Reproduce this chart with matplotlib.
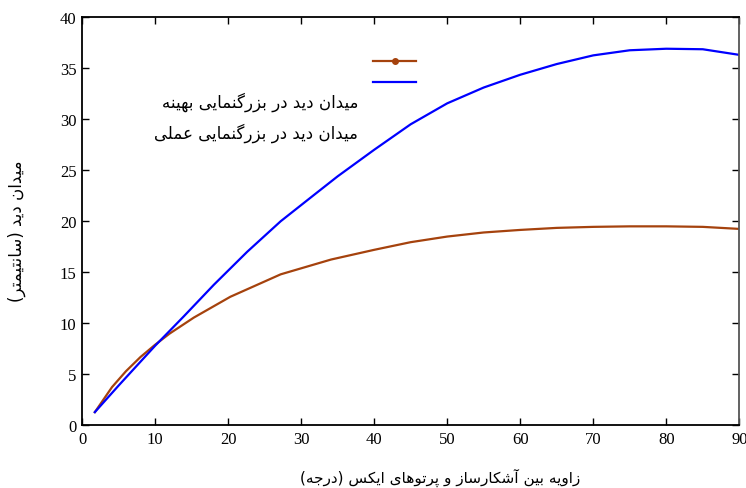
import matplotlib
matplotlib.use('Agg')
import matplotlib.pyplot as plt
from matplotlib.lines import Line2D

plt.rcParams['font.family'] = ['Liberation Serif', 'DejaVu Sans']

# data
angle_opt = [1.75, 4.1, 6, 8, 10, 12, 15.3, 20.3, 27.2, 34.1, 40, 45, 50, 55, 60, 65, 70, 75, 80, 85, 90]
fov_opt = [1.3, 3.75, 5.3, 6.7, 7.9, 9.0, 10.56, 12.6, 14.8, 16.25, 17.2, 17.95, 18.5, 18.9,
           19.15, 19.35, 19.45, 19.5, 19.5, 19.45, 19.25]
angle_prac = [1.75, 5, 10, 13.9, 18.05, 22.6, 27.2, 31.8, 35, 40, 45, 50, 55, 60, 65, 70, 75, 80, 85, 90]
fov_prac = [1.3, 3.9, 7.8, 10.66, 13.78, 17.0, 20.0, 22.6, 24.4, 27.0, 29.5, 31.55, 33.1, 34.35,
            35.4, 36.25, 36.75, 36.9, 36.85, 36.3]

label_opt = 'میدان دید در بزرگنمایی بهینه'
label_prac = 'میدان دید در بزرگنمایی عملی'
xlabel = 'زاویه بین آشکارساز و پرتوهای ایکس (درجه)'
ylabel = 'میدان دید (سانتیمتر)'

# minimal persian shaping (matplotlib has no complex text layout)
FORMS = {
    'ا': 'FE8D FE8E', 'آ': 'FE81 FE82', 'ب': 'FE8F FE90 FE91 FE92', 'پ': 'FB56 FB57 FB58 FB59',
    'ت': 'FE95 FE96 FE97 FE98', 'ج': 'FE9D FE9E FE9F FEA0', 'د': 'FEA9 FEAA', 'ر': 'FEAD FEAE',
    'ز': 'FEAF FEB0', 'س': 'FEB1 FEB2 FEB3 FEB4', 'ش': 'FEB5 FEB6 FEB7 FEB8',
    'ع': 'FEC9 FECA FECB FECC', 'ک': 'FB8E FB8F FB90 FB91', 'گ': 'FB92 FB93 FB94 FB95',
    'ل': 'FEDD FEDE FEDF FEE0', 'م': 'FEE1 FEE2 FEE3 FEE4', 'ن': 'FEE5 FEE6 FEE7 FEE8',
    'ه': 'FEE9 FEEA FEEB FEEC', 'و': 'FEED FEEE', 'ی': 'FBFC FBFD FBFE FBFF',
}
FORMS = {k: [chr(int(h, 16)) for h in v.split()] for k, v in FORMS.items()}


def fa(text):
    text = text.replace('ي', 'ی').replace('ك', 'ک')
    out = []
    for i, c in enumerate(text):
        if c not in FORMS:
            out.append(c)
            continue
        prev = text[i - 1] if i > 0 else ''
        nxt = text[i + 1] if i + 1 < len(text) else ''
        jp = prev in FORMS and len(FORMS[prev]) == 4
        jn = nxt in FORMS and len(FORMS[c]) == 4
        f = FORMS[c]
        if jp and jn:
            out.append(f[3])
        elif jp:
            out.append(f[1])
        elif jn:
            out.append(f[2])
        else:
            out.append(f[0])
    vis = ''.join(reversed(out))
    return vis.translate(str.maketrans('()', ')('))


fig = plt.figure(figsize=(7.46, 4.89), dpi=100)
ax = fig.add_axes([0.110, 0.128, 0.881, 0.835])

c_opt = '#a5420d'
c_prac = '#0000ff'
ax.plot(angle_opt, fov_opt, color=c_opt, lw=1.6)
ax.plot(angle_prac, fov_prac, color=c_prac, lw=1.6)

ax.set_xlim(0, 90)
ax.set_ylim(0, 40)
ax.set_xticks(range(0, 91, 10))
ax.set_yticks(range(0, 41, 5))
ax.tick_params(direction='in', length=5, width=1, top=True, right=True,
               labelsize=12, pad=4)
for s in ax.spines.values():
    s.set_linewidth(1.3)
ax.spines['right'].set_color('#555555')

handles = [Line2D([], [], color=c_opt, lw=1.6, marker='o', markersize=4, markevery=[1]),
           Line2D([], [], color=c_prac, lw=1.6)]
ax.legend(handles, [' ', ' '], loc='upper left', bbox_to_anchor=(0.443, 0.904),
          frameon=False, borderaxespad=0, borderpad=0, handlelength=3.1,
          labelspacing=0.57, fontsize=10)

ax.text(0.42, 0.793, fa(label_opt), transform=ax.transAxes, ha='right', va='center',
        family='DejaVu Sans', fontsize=12)
ax.text(0.42, 0.719, fa(label_prac), transform=ax.transAxes, ha='right', va='center',
        family='DejaVu Sans', fontsize=12)

ax.set_xlabel(fa(xlabel), family='DejaVu Sans', fontsize=11, va='center')
ax.xaxis.set_label_coords(0.545, -0.126)
ax.set_ylabel(fa(ylabel), family='DejaVu Sans', fontsize=12, va='center')
ax.yaxis.set_label_coords(-0.099, 0.479)

fig.savefig('out.png', dpi=100)
